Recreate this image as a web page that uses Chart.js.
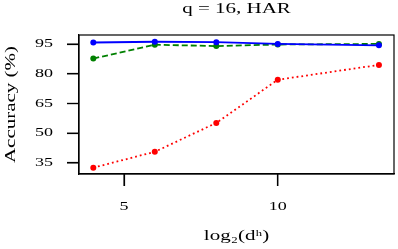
<!DOCTYPE html>
<html>
<head>
<meta charset="utf-8">
<script src="https://cdn.jsdelivr.net/npm/chart.js@4/dist/chart.umd.min.js"></script>
<style>
  html, body { margin: 0; padding: 0; background: #fff; }
  #accChart { display: block; }
</style>
</head>
<body>
<canvas id="accChart" width="398" height="249"></canvas>
<script>
const logDh = [4, 6, 8, 10, 13.29];
const accBlue = [95.8, 96.2, 96.0, 95.1, 94.4];
const accGreen = [87.7, 94.7, 94.0, 94.8, 95.1];
const accRed = [32.6, 40.6, 55.2, 77.0, 84.5];
const xTicks = [5, 10];
const yTicks = [35, 50, 65, 80, 95];

const canvas = document.getElementById('accChart');
const ctx = canvas.getContext('2d');

// the reference text is drawn wide, so stretch every label along its reading direction
const textStretch = 1.5;
const plainFillText = ctx.fillText;
ctx.fillText = function (text, x, y) {
    this.save();
    this.translate(x, y);
    this.scale(textStretch, 1);
    plainFillText.call(this, text, 0, 0);
    this.restore();
};

function points(ys) {
    return logDh.map((x, i) => ({ x: x, y: ys[i] }));
}

// box round the plot, plus tick marks filled as thin rectangles at the scales' ticks
const tickLen = 12;
const frame = {
    id: 'frame',
    afterDraw(chart) {
        const a = chart.chartArea;
        const c = chart.ctx;
        const sx = chart.scales.x;
        const sy = chart.scales.y;
        c.save();
        c.setLineDash([]);
        c.strokeStyle = '#000';
        c.fillStyle = '#000';
        c.lineWidth = 1.2;
        c.strokeRect(a.left, a.top, a.right - a.left, a.bottom - a.top);
        sx.ticks.forEach(t => {
            const px = sx.getPixelForValue(t.value);
            c.fillRect(px - 0.6, a.bottom, 1.2, tickLen);
        });
        sy.ticks.forEach(t => {
            const py = sy.getPixelForValue(t.value);
            c.fillRect(a.left - tickLen, py - 0.6, tickLen, 1.2);
        });
        c.restore();
    }
};

const serif = 'Liberation Serif';

const accChart = new Chart(ctx, {
    type: 'line',
    data: {
        datasets: [
            {
                label: 'blue',
                data: points(accBlue),
                borderColor: '#0000ff',
                backgroundColor: '#0000ff',
                borderWidth: 1.8,
                pointRadius: 3,
                pointBorderWidth: 0
            },
            {
                label: 'green',
                data: points(accGreen),
                borderColor: '#008000',
                backgroundColor: '#008000',
                borderWidth: 1.8,
                borderDash: [6, 3],
                pointRadius: 3,
                pointBorderWidth: 0
            },
            {
                label: 'red',
                data: points(accRed),
                borderColor: '#ff0000',
                backgroundColor: '#ff0000',
                borderWidth: 1.8,
                borderDash: [1.8, 3],
                pointRadius: 3,
                pointBorderWidth: 0
            }
        ]
    },
    options: {
        responsive: false,
        animation: false,
        layout: { padding: { left: 0, right: 4, top: 0, bottom: 0 } },
        plugins: {
            legend: { display: false },
            tooltip: { enabled: false },
            title: {
                display: true,
                text: 'q = 16, HAR',
                fullSize: false,
                color: '#000',
                font: { family: serif, size: 14, weight: 'normal' },
                padding: { top: 0.5, bottom: 17.7 }
            }
        },
        scales: {
            x: {
                type: 'linear',
                min: 3.535,
                max: 13.78,
                afterBuildTicks: s => { s.ticks = xTicks.map(v => ({ value: v })); },
                afterFit: s => { s.height = 75; },
                grid: { drawOnChartArea: false, tickLength: tickLen, tickColor: '#000', tickWidth: 1.2 },
                border: { color: '#000', width: 1.2 },
                ticks: { color: '#000', padding: 14, font: { family: serif, size: 12 } },
                title: {
                    display: true,
                    text: 'log₂(dʰ)',
                    color: '#000',
                    font: { family: serif, size: 14 },
                    padding: { top: 0, bottom: 4.6 }
                }
            },
            y: {
                min: 29.4,
                max: 99.6,
                afterBuildTicks: s => { s.ticks = yTicks.map(v => ({ value: v })); },
                afterFit: s => { s.width = 79; },
                grid: { drawOnChartArea: false, tickLength: tickLen, tickColor: '#000', tickWidth: 1.2 },
                border: { color: '#000', width: 1.2 },
                ticks: { color: '#000', padding: 14, font: { family: serif, size: 12 } },
                title: {
                    display: true,
                    text: 'Accuracy (%)',
                    color: '#000',
                    font: { family: serif, size: 14 },
                    padding: { top: 2.5, bottom: 0 }
                }
            }
        }
    },
    plugins: [frame]
});
</script>
</body>
</html>
